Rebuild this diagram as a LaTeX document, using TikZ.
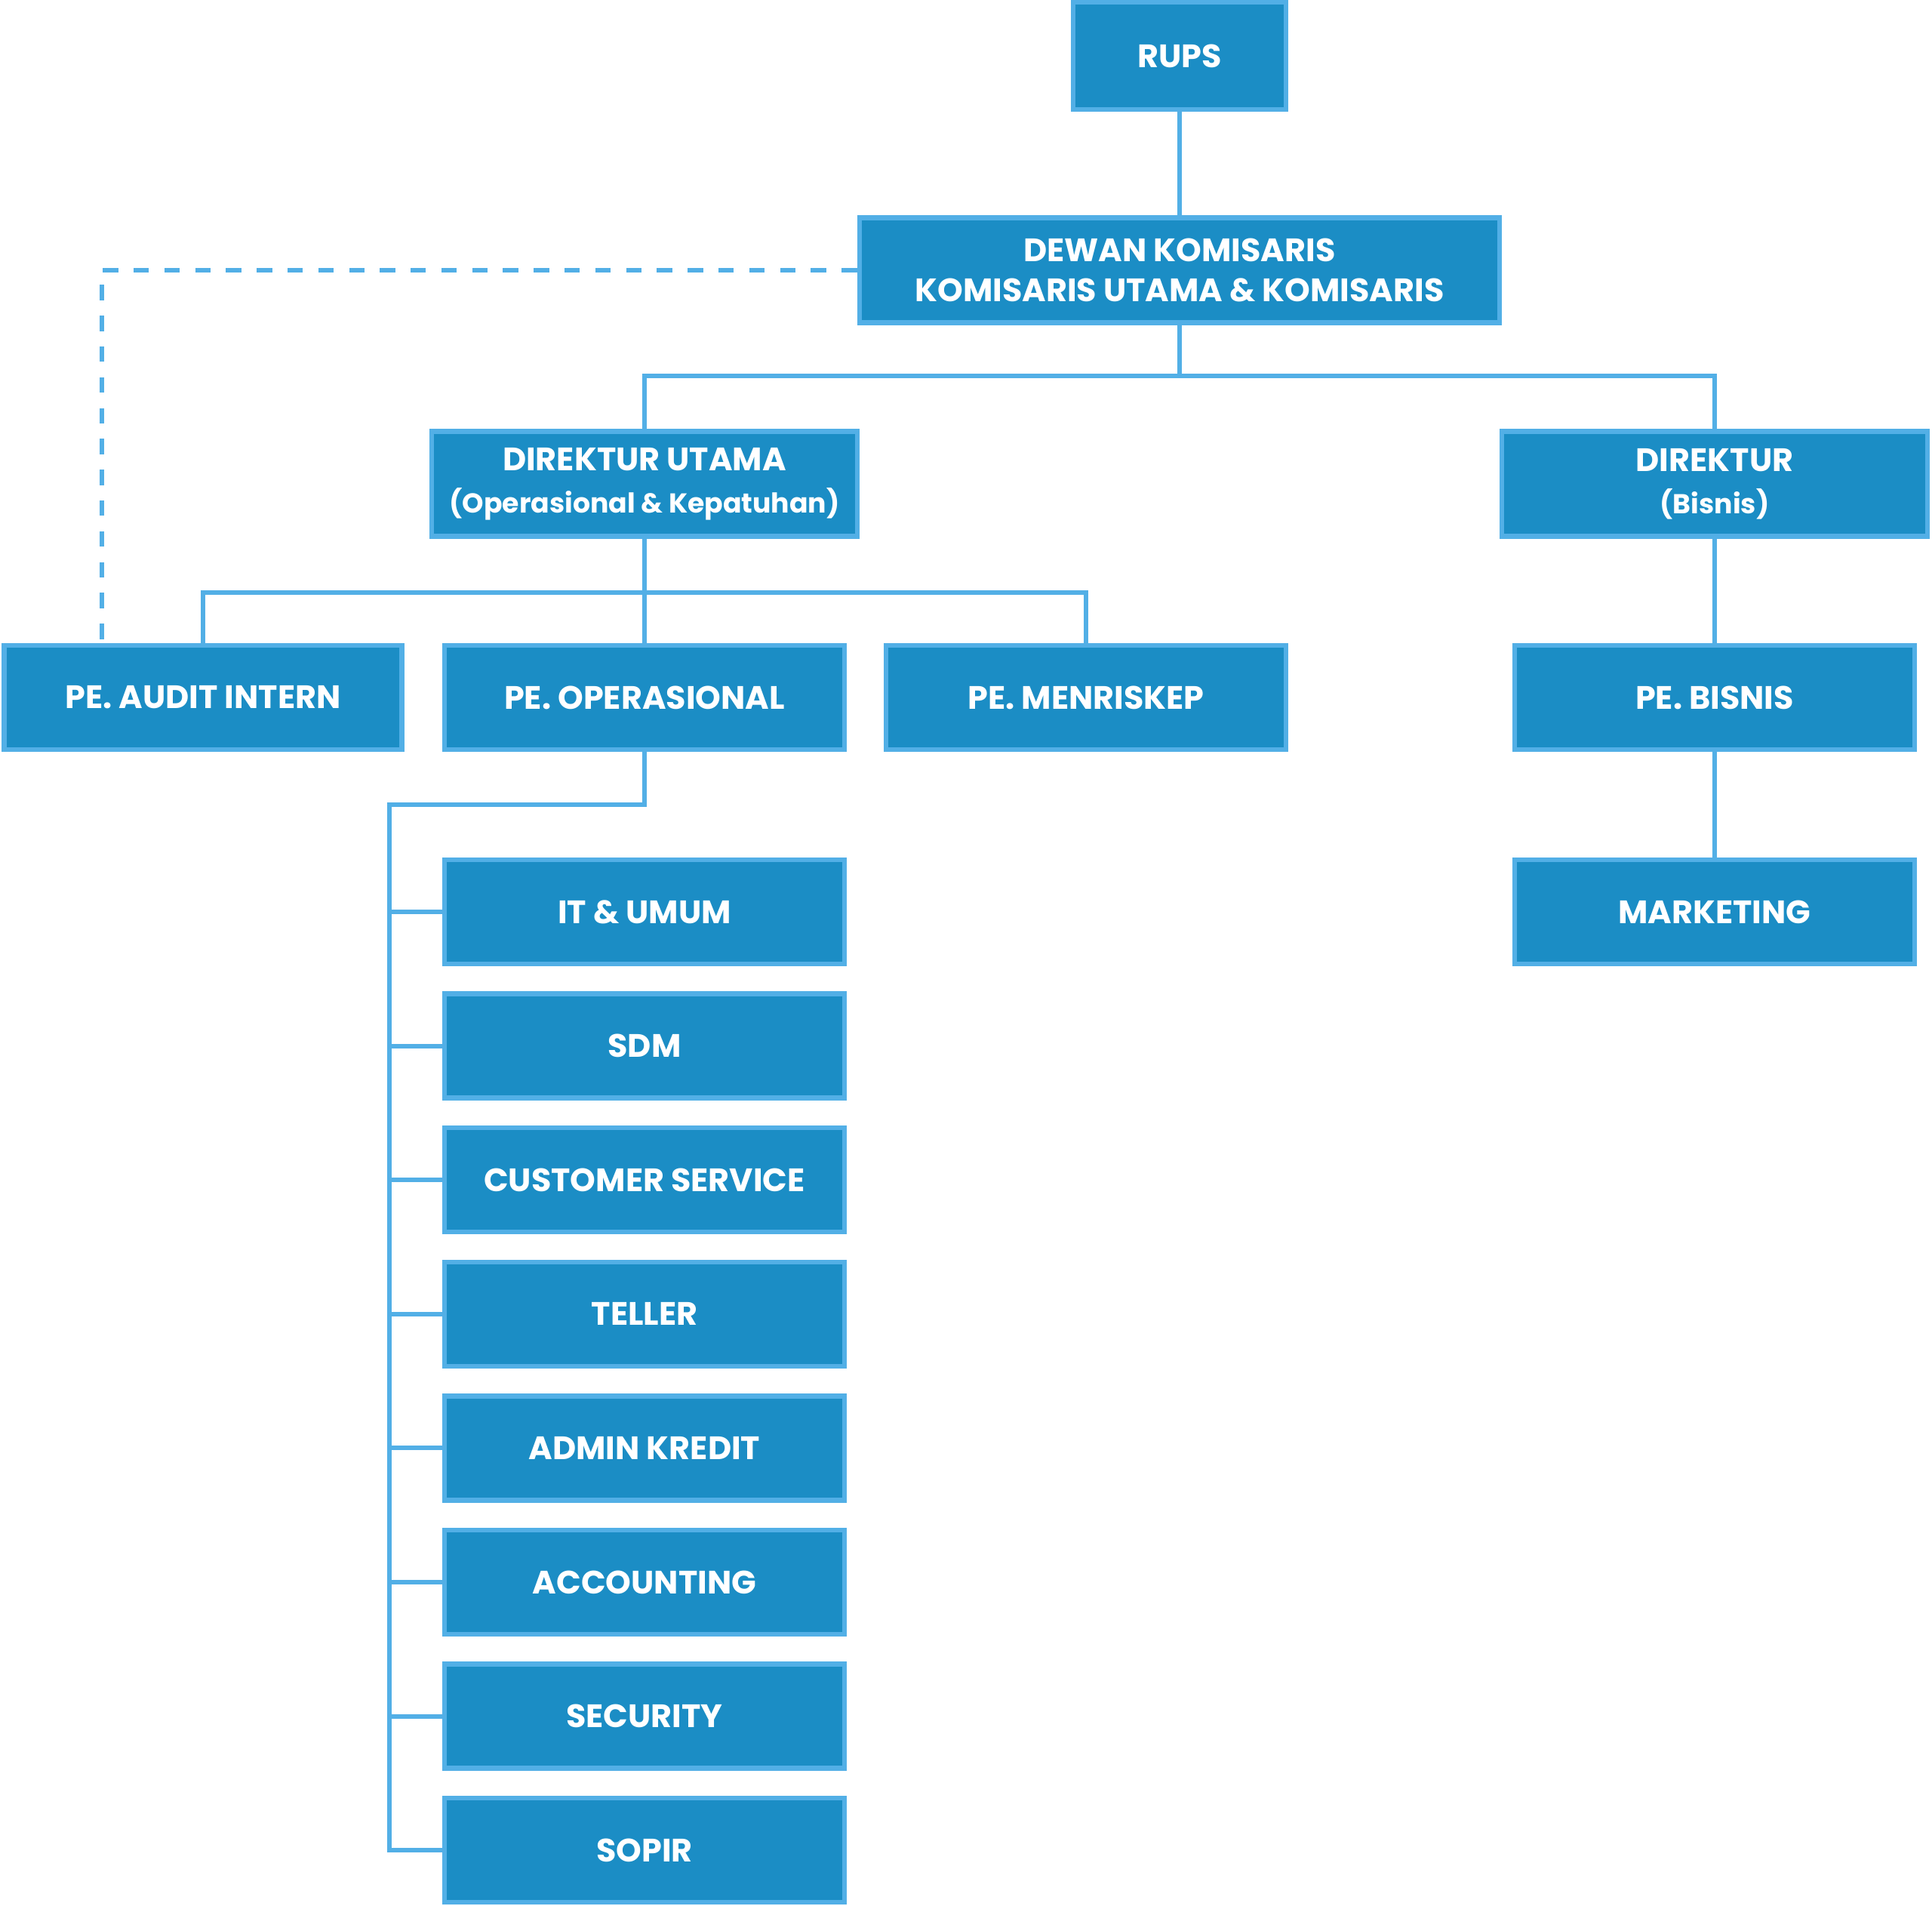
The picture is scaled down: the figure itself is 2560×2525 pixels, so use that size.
\documentclass[tikz,border=0pt]{standalone}
\usepackage{fontspec}
\setmainfont{Poppins}
\usetikzlibrary{calc}

\definecolor{boxfill}{HTML}{1B8DC5}
\definecolor{boxline}{HTML}{52AFE6}

\tikzset{
  orgbox/.style={rectangle, draw=boxline, fill=boxfill, line width=1.8pt,
    text=white, font=\fontsize{12.2}{15.3}\selectfont\bfseries, align=center,
    minimum width=5.30cm, minimum height=1.38cm, inner sep=0pt},
  link/.style={draw=boxline, line width=1.7pt},
  dashlink/.style={link, dash pattern=on 5.8pt off 5.8pt},
}
\newcommand{\subline}[1]{\\[0.5pt]{\fontsize{10.3}{13}\selectfont #1}}

\begin{document}
\begin{tikzpicture}[x=0.01cm, y=-0.01cm]
  \useasboundingbox (0,0) rectangle (2560,2525);
  % top levels
  \node[orgbox, minimum width=2.82cm, minimum height=1.42cm] (rups) at (1563,74) {RUPS};
  \node[orgbox, minimum width=8.48cm, minimum height=1.39cm] (dewan) at (1563,358)
    {DEWAN KOMISARIS\\KOMISARIS UTAMA \& KOMISARIS};
  \node[orgbox, minimum width=5.64cm, minimum height=1.39cm] (dirut) at (854,641)
    {DIREKTUR UTAMA\subline{(Operasional \& Kepatuhan)}};
  \node[orgbox, minimum width=5.64cm, minimum height=1.39cm] (dirbis) at (2272,641)
    {DIREKTUR\subline{(Bisnis)}};
  % pe row
  \node[orgbox, minimum width=5.27cm] (audit) at (269,924) {PE. AUDIT INTERN};
  \node[orgbox] (operasional) at (854,924) {PE. OPERASIONAL};
  \node[orgbox] (menriskep) at (1439,924) {PE. MENRISKEP};
  \node[orgbox] (bisnis) at (2272,924) {PE. BISNIS};
  \node[orgbox] (marketing) at (2272,1208) {MARKETING};
  % units under operasional
  \foreach \name/\txt [count=\i from 0] in {itumum/IT \& UMUM, sdm/SDM,
      cs/CUSTOMER SERVICE, teller/TELLER, admin/ADMIN KREDIT,
      accounting/ACCOUNTING, security/SECURITY, sopir/SOPIR}
    \node[orgbox] (\name) at (854,1208+177.6*\i) {\txt};

  % connectors
  \draw[link] (rups) -- (dewan);
  \draw[link] (dewan.south) -- ++(0,67) -| (dirut.north);
  \draw[link] (dewan.south) -- ++(0,67) -| (dirbis.north);
  \draw[link] (dirut.south) -- ++(0,71) -| (audit.north);
  \draw[link] (dirut.south) -- ++(0,71) -| (menriskep.north);
  \draw[link] (dirut) -- (operasional);
  \draw[link] (dirbis) -- (bisnis);
  \draw[link] (bisnis) -- (marketing);
  \draw[dashlink] (dewan.west) -| ($(audit.north west)+(133,0)$);

  \coordinate (spine) at (516,1066);
  \draw[link] (operasional.south) |- (spine) |- (sopir.west);
  \foreach \name in {itumum,sdm,cs,teller,admin,accounting,security}
    \draw[link] (\name.west) -- (\name.west -| spine);
\end{tikzpicture}
\end{document}
